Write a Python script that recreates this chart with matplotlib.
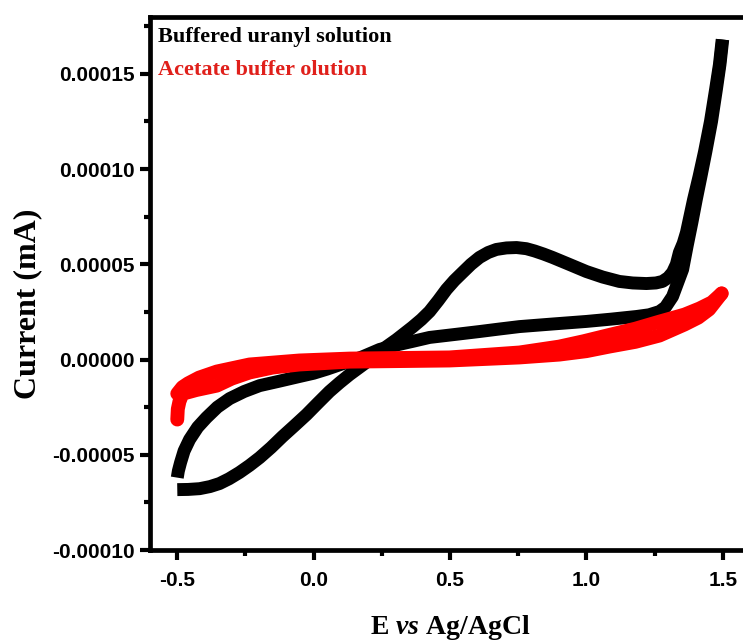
import numpy as np
import matplotlib
matplotlib.use("Agg")
import matplotlib.pyplot as plt
from matplotlib.ticker import MultipleLocator, FormatStrFormatter

# buffered uranyl solution: forward scan (-0.5 -> 1.5 V)
uranyl_fwd_E = [-0.500, -0.460, -0.418, -0.380, -0.345, -0.310, -0.272, -0.235,
                -0.198, -0.156, -0.114, -0.070, -0.026, 0.016, 0.058, 0.095,
                0.132, 0.190, 0.242, 0.304, 0.362, 0.395, 0.425, 0.457, 0.487,
                0.516, 0.546, 0.577, 0.608, 0.640, 0.670, 0.707, 0.744, 0.780,
                0.810, 0.843, 0.876, 0.940, 1.000, 1.060, 1.121, 1.170, 1.220,
                1.255, 1.279, 1.300, 1.316, 1.330, 1.341, 1.355, 1.367, 1.393,
                1.413, 1.433, 1.455, 1.474, 1.488, 1.498]
uranyl_fwd_I = [-6.83e-5, -6.82e-5, -6.78e-5, -6.67e-5, -6.51e-5, -6.26e-5,
                -5.93e-5, -5.56e-5, -5.15e-5, -4.62e-5, -4.04e-5, -3.47e-5,
                -2.89e-5, -2.28e-5, -1.68e-5, -1.22e-5, -7.9e-6, -1.8e-6,
                4.2e-6, 1.05e-5, 1.70e-5, 2.10e-5, 2.52e-5, 3.10e-5, 3.68e-5,
                4.15e-5, 4.57e-5, 5.00e-5, 5.36e-5, 5.62e-5, 5.78e-5, 5.86e-5,
                5.88e-5, 5.82e-5, 5.70e-5, 5.54e-5, 5.36e-5, 4.98e-5, 4.62e-5,
                4.33e-5, 4.10e-5, 4.02e-5, 3.99e-5, 4.02e-5, 4.10e-5, 4.30e-5,
                4.57e-5, 5.00e-5, 5.62e-5, 6.10e-5, 6.67e-5, 8.40e-5, 9.60e-5,
                1.09e-4, 1.25e-4, 1.42e-4, 1.55e-4, 1.68e-4]

# buffered uranyl solution: reverse scan (1.5 -> -0.5 V)
uranyl_rev_E = [1.500, 1.490, 1.477, 1.459, 1.438, 1.420, 1.403, 1.387, 1.370,
                1.353, 1.316, 1.290, 1.268, 1.230, 1.184, 1.090, 1.000, 0.880,
                0.755, 0.680, 0.608, 0.520, 0.425, 0.362, 0.300, 0.242, 0.180,
                0.121, 0.050, 0.000, -0.052, -0.130, -0.198, -0.255, -0.308,
                -0.353, -0.393, -0.425, -0.455, -0.475, -0.488, -0.496, -0.500]
uranyl_rev_I = [1.68e-4, 1.55e-4, 1.42e-4, 1.25e-4, 1.09e-4, 9.60e-5, 8.40e-5,
                7.20e-5, 6.00e-5, 4.73e-5, 3.31e-5, 2.75e-5, 2.52e-5, 2.35e-5,
                2.26e-5, 2.12e-5, 2.00e-5, 1.87e-5, 1.73e-5, 1.60e-5, 1.47e-5,
                1.32e-5, 1.16e-5, 9.5e-6, 7.5e-6, 5.3e-6, 1.5e-6, -1.5e-6,
                -5.0e-6, -7.2e-6, -8.9e-6, -1.15e-5, -1.37e-5, -1.68e-5,
                -2.05e-5, -2.50e-5, -3.05e-5, -3.55e-5, -4.20e-5, -4.80e-5,
                -5.41e-5, -5.85e-5, -6.20e-5]

# acetate buffer: forward scan
acetate_fwd_E = [-0.500, -0.498, -0.492, -0.481, -0.430, -0.355, -0.300,
                 -0.235, -0.150, -0.052, 0.132, 0.498, 0.755, 0.901, 1.000,
                 1.084, 1.180, 1.268, 1.360, 1.410, 1.450, 1.496]
acetate_fwd_I = [-3.15e-5, -2.60e-5, -2.20e-5, -1.80e-5, -1.60e-5, -1.37e-5,
                 -1.00e-5, -6.8e-6, -4.2e-6, -2.6e-6, -1.1e-6, -5.0e-7, 1.1e-6,
                 2.6e-6, 4.4e-6, 6.8e-6, 9.3e-6, 1.26e-5, 1.84e-5, 2.20e-5,
                 2.63e-5, 3.47e-5]

# acetate buffer: reverse scan
acetate_rev_E = [1.496, 1.460, 1.415, 1.360, 1.268, 1.180, 1.084, 0.990, 0.901,
                 0.755, 0.498, 0.132, -0.052, -0.235, -0.355, -0.420, -0.460,
                 -0.481, -0.500]
acetate_rev_I = [3.47e-5, 3.00e-5, 2.68e-5, 2.36e-5, 1.99e-5, 1.62e-5, 1.29e-5,
                 9.6e-6, 6.8e-6, 3.7e-6, 1.1e-6, 5.0e-7, -5.0e-7, -2.6e-6,
                 -6.3e-6, -9.5e-6, -1.25e-5, -1.45e-5, -1.79e-5]

plt.rcParams["mathtext.fontset"] = "custom"
plt.rcParams["mathtext.rm"] = "Liberation Serif:bold"
plt.rcParams["mathtext.it"] = "Liberation Serif:italic:bold"

fig = plt.figure(figsize=(7.43, 6.41), dpi=100)
# axes run past the right edge of the picture, as in the original
ax = fig.add_axes([150 / 743, 1 - 550 / 641, 600 / 743, 533.3 / 641])

ax.plot(uranyl_fwd_E, uranyl_fwd_I, color="black", lw=9.3,
        solid_capstyle="butt", solid_joinstyle="round")
ax.plot(uranyl_rev_E, uranyl_rev_I, color="black", lw=9.3,
        solid_capstyle="butt", solid_joinstyle="round")
ax.plot(acetate_fwd_E, acetate_fwd_I, color="#ff0000", lw=10,
        solid_capstyle="round", solid_joinstyle="round")
ax.plot(acetate_rev_E, acetate_rev_I, color="#ff0000", lw=10,
        solid_capstyle="round", solid_joinstyle="round")

ax.set_xlim(-0.6, 1.6)
ax.set_ylim(-0.0001, 0.00018)

ax.xaxis.set_major_locator(MultipleLocator(0.5))
ax.xaxis.set_minor_locator(MultipleLocator(0.25))
ax.xaxis.set_major_formatter(FormatStrFormatter("%.1f"))
ax.yaxis.set_major_locator(MultipleLocator(0.00005))
ax.yaxis.set_minor_locator(MultipleLocator(0.000025))
ax.yaxis.set_major_formatter(FormatStrFormatter("%.5f"))

for s in ax.spines.values():
    s.set_linewidth(3.4)

ax.tick_params(which="major", direction="out", length=7, width=3, pad=4,
               top=False, right=False)
ax.tick_params(which="minor", direction="out", length=4.5, width=3,
               top=False, right=False)
for lab in ax.get_xticklabels() + ax.get_yticklabels():
    lab.set_fontfamily("Liberation Sans")
    lab.set_fontweight("bold")
    lab.set_fontsize(15)
ax.tick_params(axis="x", pad=8)

ax.set_xlabel(r"E $\it{vs}$ Ag/AgCl", fontfamily="Liberation Serif",
              fontweight="bold", fontsize=20)
ax.xaxis.set_label_coords(0.5, -0.118)
ax.set_ylabel("Current (mA)", fontfamily="Liberation Serif",
              fontweight="bold", fontsize=23)
ax.yaxis.set_label_coords(-0.18, 0.462)

fig.text(158 / 743, 1 - 37 / 641, "Buffered uranyl solution", color="black",
         fontfamily="Liberation Serif", fontweight="bold", fontsize=16,
         va="center", ha="left")
fig.text(158 / 743, 1 - 70 / 641, "Acetate buffer olution", color="#e0201b",
         fontfamily="Liberation Serif", fontweight="bold", fontsize=16,
         va="center", ha="left")

fig.savefig("out.png", dpi=100)
plt.close(fig)
